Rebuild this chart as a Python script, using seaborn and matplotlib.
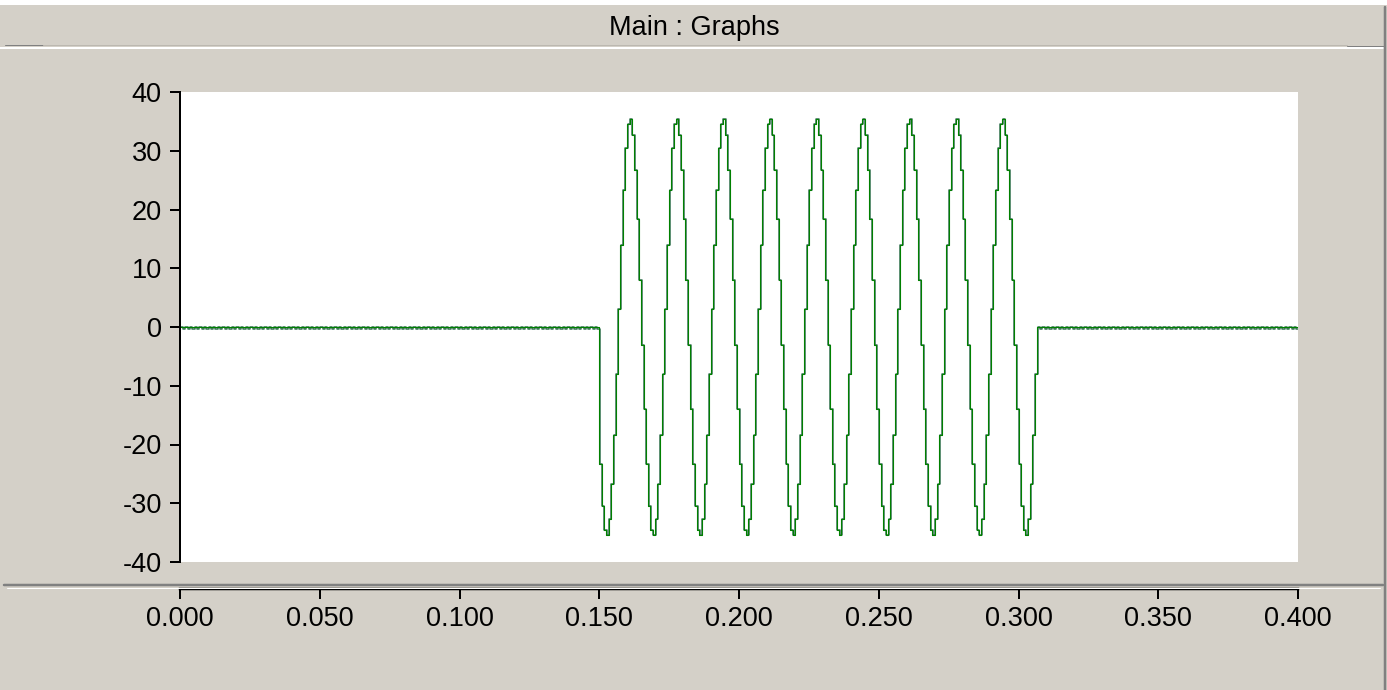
import numpy as np
import pandas as pd
import matplotlib
matplotlib.use("Agg")
import matplotlib.pyplot as plt
import seaborn as sns
from matplotlib.lines import Line2D
from matplotlib.patches import Rectangle


# one 60 Hz cycle of the held samples (20 steps per cycle)
cycle_levels = [3.1, 13.9, 23.3, 30.4, 34.6, 35.4, 32.7, 26.8, 18.3, 8.0,
                -3.1, -13.9, -23.3, -30.4, -34.6, -35.4, -32.7, -26.8, -18.3, -8.0]
step = 1 / 1200        # hold time of each sample
n_samples = 481        # 0.000 .. 0.400 s
burst_start = 180      # t = 0.150 s
burst_len = 188        # back to zero near t = 0.307 s
first_phase = 12       # trace drops straight to about -23
ripple = [0.0, -0.35]  # small comb on the dark trace while idle
dark_lag = 0.0002

x_ticks = [0.0, 0.05, 0.1, 0.15, 0.2, 0.25, 0.3, 0.35, 0.4]
y_ticks = [-40, -30, -20, -10, 0, 10, 20, 30, 40]
title = "Main : Graphs"

t = np.arange(n_samples) * step
burst = np.tile(cycle_levels, 11)[first_phase:first_phase + burst_len]

green = np.zeros(n_samples)
green[burst_start:burst_start + burst_len] = burst
dark = np.tile(ripple, n_samples // 2 + 1)[:n_samples].astype(float)
dark[burst_start:burst_start + burst_len] = burst

df = pd.DataFrame({"t": t, "t_dark": t + dark_lag, "green": green, "dark": dark})

sns.set_style("ticks")
plt.rcParams["font.family"] = ["Liberation Sans", "DejaVu Sans"]
plt.rcParams["axes.unicode_minus"] = False

W, H = 1387, 690
bg = "#d4d0c8"
px = 0.72  # one pixel in points
fs = 19.5

fig = plt.figure(figsize=(W / 100, H / 100), dpi=100, facecolor=bg)

# window chrome
fig.add_artist(Rectangle((0, 1 - 5 / H), 1, 5 / H, transform=fig.transFigure,
                         facecolor="white", edgecolor="none"))
fig.add_artist(Line2D([5 / W, 43 / W], [1 - 44.5 / H] * 2, color="#808080", lw=px))
fig.add_artist(Line2D([43 / W, 1347 / W], [1 - 45 / H] * 2, color="#bcb8b0", lw=px))
fig.add_artist(Line2D([1347 / W, 1384 / W], [1 - 45.5 / H] * 2, color="#808080", lw=px))
fig.add_artist(Line2D([0, 1383 / W], [1 - 48 / H] * 2, color="white", lw=2 * px))
fig.add_artist(Line2D([1385 / W] * 2, [0, 1 - 7 / H], color="#808080", lw=2.5 * px))
fig.add_artist(Line2D([4 / W, 1383 / W], [1 - 585 / H] * 2, color="#808080", lw=2.5 * px))
fig.add_artist(Line2D([7 / W, 1380 / W], [1 - 587.5 / H] * 2, color="white", lw=px))

fig.text(694 / W, 1 - 28 / H, title, ha="center", va="center", fontsize=fs, color="black")

# plot area
ax = fig.add_axes([180 / W, 1 - 562 / H, (1298 - 180) / W, (562 - 92) / H])
ax.set_facecolor("white")
sns.lineplot(data=df, x="t_dark", y="dark", color="#336e50", lw=1.5 * px,
             drawstyle="steps-post", estimator=None, ax=ax)
sns.lineplot(data=df, x="t", y="green", color="#008000", lw=1.1 * px,
             drawstyle="steps-post", estimator=None, ax=ax)
ax.set_xlim(0, 0.4)
ax.set_ylim(-40, 40)
ax.set_xticks([])
ax.set_yticks(y_ticks)
ax.set_xlabel("")
ax.set_ylabel("")
for s in ["top", "right", "bottom"]:
    ax.spines[s].set_visible(False)
ax.spines["left"].set_color("black")
ax.spines["left"].set_linewidth(2 * px)
ax.tick_params(axis="y", direction="out", length=10 * px, width=2 * px,
               pad=6, labelsize=fs, colors="black")

# detached time axis below the plot
axx = fig.add_axes([180 / W, 1 - 589 / H, (1298 - 180) / W, 0.0005])
axx.patch.set_visible(False)
for s in ["top", "right", "left"]:
    axx.spines[s].set_visible(False)
axx.spines["bottom"].set_color("black")
axx.spines["bottom"].set_linewidth(2.5 * px)
axx.set_xlim(0, 0.4)
axx.set_xticks(x_ticks)
axx.set_xticklabels([f"{v:.3f}" for v in x_ticks])
axx.set_yticks([])
axx.tick_params(axis="x", direction="out", length=10 * px, width=2 * px,
                pad=5, labelsize=fs, colors="black")

fig.savefig("out.png", dpi=100, facecolor=bg)
